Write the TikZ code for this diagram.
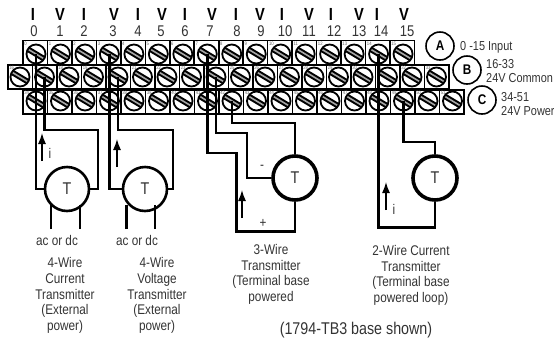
\documentclass[tikz,border=0pt]{standalone}
\usepackage{fontspec}
\setmainfont{Liberation Sans}[FakeStretch=0.84]
\tikzset{
  cellbox/.style={draw,line width=1.6pt,minimum width=24.5pt,minimum height=24pt,inner sep=0pt},
  screw/.style={draw,circle,line width=1.8pt,minimum size=19pt,inner sep=0pt,path picture={
    \draw[line width=5.6pt] (-11pt,6.6pt) -- (11pt,-6.6pt);
    \draw[line width=1.6pt,black!35] (-11pt,6.6pt) -- (11pt,-6.6pt);}},
  termno/.style={font=\fontsize{5}{5}\selectfont,text=black!60,inner sep=0pt},
  wire/.style={line width=2.6pt,line join=miter},
  xmtr/.style={draw,circle,minimum size=44pt,inner sep=0pt,fill=white,text=black!80,font=\fontsize{17}{17}\selectfont},
  thinxmtr/.style={xmtr,line width=2.6pt},
  thickxmtr/.style={xmtr,line width=3.6pt},
  flow/.style={line width=1.4pt,-{Latex[length=11pt,width=8pt]}},
  chan/.style={font=\bfseries\fontsize{17.5}{17.5}\selectfont,inner sep=0pt},
  idx/.style={font=\fontsize{15.5}{15.5}\selectfont,inner sep=0pt,text=black!80},
  rowcirc/.style={draw,circle,line width=1.6pt,minimum size=28pt,inner sep=0pt,font=\bfseries\fontsize{14}{14}\selectfont},
  note/.style={font=\fontsize{14}{15.7}\selectfont,align=center,inner sep=0pt,text=black!80},
  rownote/.style={font=\fontsize{13}{14}\selectfont,align=left,anchor=west,inner sep=0pt,text=black!80}
}
\usetikzlibrary{arrows.meta}
\begin{document}
\begin{tikzpicture}[x=1pt,y=-1pt]
    \useasboundingbox (0,0) rectangle (554,341);

    % channel letters and numbers above the top row
    \foreach \i/\c/\xa/\xb in {0/I/33/34,1/V/60/60,2/I/84/84,3/V/114/113,4/I/138/138,5/V/162/161,6/I/185/185,7/V/212/210,8/I/236/237,9/V/260/261,10/I/282/285,11/V/309/309,12/I/331/334,13/V/359/359,14/I/377/381,15/V/404/407}{
      \node[chan] (c\i) at (\xa,14) {\c};
      \node[idx] (n\i) at (\xb,31) {\i};
    }

    % three rows of terminals
    \foreach \i in {0,1,...,15}{
      \pgfmathtruncatemacro{\ti}{\i}
      \node[cellbox] (ca\i) at ({35.2+24.47*\i},52.5) {};
      \node[termno,anchor=north west] (ta\i) at ([shift={(2pt,-2pt)}]ca\i.north west) {\ti};
      \node[screw] (a\i) at ({36+24.47*\i},54) {};
    }
    \foreach \i [evaluate=\i as \tb using int(16+\i), evaluate=\i as \tc using int(34+\i)] in {0,1,...,17}{
      \node[cellbox] (cb\i) at ({20.2+24.5*\i},77) {};
      \node[termno,anchor=north west] (tb\i) at ([shift={(2pt,-2pt)}]cb\i.north west) {\tb};
      \node[screw] (b\i) at ({20+24.5*\i},77) {};
      \node[cellbox] (cc\i) at ({35.2+24.5*\i},102) {};
      \node[termno,anchor=north west] (tc\i) at ([shift={(2pt,-2pt)}]cc\i.north west) {\tc};
      \node[screw] (c\i) at ({36+24.5*\i},101) {};
    }

    % row captions
    \node[rowcirc] (rowa) at (440,46) {A};
    \node[rowcirc] (rowb) at (467,70) {B};
    \node[rowcirc] (rowc) at (482,100) {C};
    \node[rownote] (nota) at (460,47) {0 -15 Input};
    \node[rownote] (notb) at (486,71) {16-33\\24V Common};
    \node[rownote] (notc) at (501,104.5) {34-51\\24V Power};

    % transmitters
    \node[thinxmtr] (t1) at (67,189) {T};
    \node[thinxmtr] (t2) at (145,189) {T};
    \node[thickxmtr] (t3) at (295,178) {T};
    \node[thickxmtr] (t4) at (435,178) {T};

    % field wiring
    \draw[wire] (a0.center) |- (t1.west);
    \draw[wire] (b1.center) |- (98,130) |- (t1.east);
    \draw[wire] (a3.center) |- (t2.west);
    \draw[wire] (b4.center) |- (173,130) |- (t2.east);
    \draw[wire] (a7.center) |- (236.5,153) -- (236.5,231.5) -| (t3.south);
    \draw[wire] (b8.center) |- (247,133) |- (t3.west);
    \draw[wire] (c8.center) |- (t3.north |- 0,123) -- (t3.north);
    \draw[wire] (a14.center) |- (t4.south |- 0,227.5) -- (t4.south);
    \draw[wire] (c15.center) |- (t4.north |- 0,142) -- (t4.north);

    % mains leads
    \coordinate (l1) at (51,229);
    \coordinate (l2) at (80,229);
    \coordinate (l3) at (126.5,229);
    \coordinate (l4) at (155,229);
    \draw[wire] (l1) -- (51,205) (l2) -- (80,205) (l3) -- (126.5,205) (l4) -- (155,205);

    % current arrows
    \coordinate (f1) at (42,161);
    \coordinate (f2) at (117,167);
    \coordinate (f3) at (242,218);
    \coordinate (f4) at (386,210);
    \draw[flow] (f1) -- ++(0,-28);
    \draw[flow] (f2) -- ++(0,-28);
    \draw[flow] (f3) -- ++(0,-28);
    \draw[flow] (f4) -- ++(0,-28);
    \node[note] (i1) at (50,153) {i};
    \node[note] (i4) at (394,209) {i};
    \node[note] (minus) at (262,167) {-};
    \node[note] (plus) at (263,223) {+};

    % captions
    \node[note] (ac1) at (57,240) {ac or dc};
    \node[note] (ac2) at (137,240) {ac or dc};
    \node[note] (cap1) at (65,295.5) {4-Wire\\Current\\Transmitter\\(External\\power)};
    \node[note] (cap2) at (157,295.5) {4-Wire\\Voltage\\Transmitter\\(External\\power)};
    \node[note] (cap3) at (271,274.5) {3-Wire\\Transmitter\\(Terminal base\\powered};
    \node[note] (cap4) at (411,275.5) {2-Wire Current\\Transmitter\\(Terminal base\\powered loop)};
    \node[note,font=\fontsize{17}{17}\selectfont] (base) at (356,330) {(1794-TB3 base shown)};
\end{tikzpicture}
\end{document}
